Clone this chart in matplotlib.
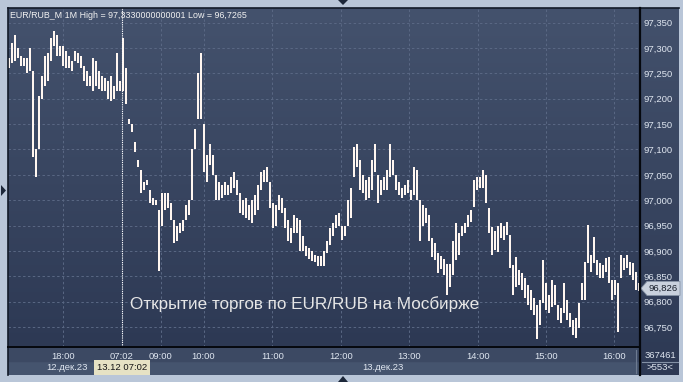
import numpy as np
import matplotlib.pyplot as plt
from matplotlib.colors import LinearSegmentedColormap
from matplotlib.patches import Polygon, Rectangle

plt.rcParams['font.family'] = ['Liberation Sans', 'DejaVu Sans']

# 1-minute bars EUR/RUB_M, low / high per bar
lows = [
    97.260, 97.270, 97.275, 97.280, 97.265, 97.265, 97.250, 97.255, 97.085, 97.045,
    97.100, 97.200, 97.225, 97.235, 97.275, 97.305, 97.285, 97.285, 97.265, 97.260,
    97.260, 97.255, 97.275, 97.270, 97.260, 97.235, 97.225, 97.225, 97.215, 97.225,
    97.220, 97.215, 97.215, 97.200, 97.195, 97.200, 97.215, 97.215, 97.215, 97.190,
    97.150, 97.135, 97.095, 97.065, 97.015, 97.020, 97.030, 96.995, 96.990, 96.990,
    96.860, 96.950, 96.980, 96.985, 96.960, 96.915, 96.920, 96.935, 96.940, 96.960,
    96.970, 97.000, 97.100, 97.160, 97.160, 97.055, 97.035, 97.070, 97.050, 97.000,
    97.000, 97.005, 97.010, 97.010, 97.015, 97.025, 97.010, 96.975, 96.970, 96.965,
    96.960, 96.955, 96.970, 96.980, 97.020, 97.035, 97.035, 96.985, 96.945, 96.950,
    96.980, 96.975, 96.945, 96.920, 96.915, 96.935, 96.935, 96.900, 96.900, 96.890,
    96.885, 96.880, 96.878, 96.870, 96.870, 96.870, 96.895, 96.912, 96.930, 96.945,
    96.950, 96.922, 96.930, 96.950, 96.965, 97.045, 97.065, 97.020, 97.015, 97.000,
    97.005, 97.020, 97.055, 96.995, 97.010, 97.020, 97.020, 97.045, 97.050, 97.020,
    97.010, 97.005, 97.010, 97.015, 97.000, 97.010, 97.000, 96.920, 96.950, 96.955,
    96.920, 96.888, 96.882, 96.857, 96.865, 96.852, 96.813, 96.828, 96.852, 96.882,
    96.892, 96.930, 96.935, 96.948, 96.957, 96.987, 97.020, 97.025, 97.025, 96.995,
    96.935, 96.892, 96.902, 96.898, 96.925, 96.922, 96.932, 96.867, 96.813, 96.828,
    96.832, 96.823, 96.807, 96.793, 96.783, 96.773, 96.726, 96.753, 96.797, 96.783,
    96.777, 96.789, 96.793, 96.764, 96.758, 96.777, 96.764, 96.750, 96.734, 96.728,
    96.748, 96.803, 96.803, 96.877, 96.858, 96.876, 96.852, 96.846, 96.846, 96.858,
    96.837, 96.803, 96.813, 96.740, 96.846, 96.862, 96.866, 96.852, 96.843, 96.823,
    96.820,
]
highs = [
    97.280, 97.310, 97.325, 97.300, 97.285, 97.280, 97.280, 97.300, 97.255, 97.100,
    97.205, 97.245, 97.285, 97.290, 97.320, 97.333, 97.325, 97.305, 97.305, 97.295,
    97.285, 97.275, 97.295, 97.290, 97.285, 97.265, 97.255, 97.245, 97.280, 97.275,
    97.255, 97.245, 97.240, 97.235, 97.245, 97.225, 97.290, 97.235, 97.320, 97.260,
    97.160, 97.150, 97.115, 97.080, 97.060, 97.035, 97.040, 97.020, 97.005, 97.000,
    96.980, 97.015, 97.015, 97.015, 96.995, 96.960, 96.950, 96.955, 96.960, 96.990,
    97.000, 97.100, 97.140, 97.250, 97.290, 97.150, 97.090, 97.110, 97.090, 97.050,
    97.035, 97.030, 97.035, 97.030, 97.045, 97.055, 97.040, 97.015, 97.000, 97.005,
    96.990, 97.000, 97.010, 97.030, 97.055, 97.060, 97.065, 97.035, 96.995, 96.990,
    97.010, 97.005, 96.985, 96.960, 96.945, 96.970, 96.965, 96.960, 96.930, 96.910,
    96.905, 96.900, 96.892, 96.890, 96.890, 96.900, 96.920, 96.945, 96.955, 96.970,
    96.975, 96.950, 96.950, 97.000, 97.025, 97.105, 97.110, 97.080, 97.050, 97.040,
    97.045, 97.080, 97.110, 97.050, 97.040, 97.045, 97.060, 97.110, 97.080, 97.050,
    97.035, 97.025, 97.030, 97.040, 97.020, 97.065, 97.060, 97.000, 96.990, 96.985,
    96.970, 96.925, 96.915, 96.895, 96.890, 96.885, 96.875, 96.875, 96.920, 96.955,
    96.935, 96.950, 96.955, 96.970, 96.980, 97.040, 97.045, 97.045, 97.060, 97.050,
    96.985, 96.948, 96.940, 96.950, 96.955, 96.950, 96.957, 96.932, 96.872, 96.888,
    96.862, 96.857, 96.847, 96.832, 96.823, 96.807, 96.793, 96.803, 96.882, 96.837,
    96.813, 96.843, 96.832, 96.793, 96.787, 96.837, 96.803, 96.777, 96.764, 96.768,
    96.797, 96.837, 96.878, 96.951, 96.892, 96.927, 96.882, 96.876, 96.872, 96.886,
    96.888, 96.843, 96.843, 96.837, 96.892, 96.886, 96.892, 96.878, 96.876, 96.858,
    96.837,
]

# time axis: tick positions in bar numbers and their labels
time_ticks = [17.8, 37.5, 50.5, 64.8, 87.8, 110.8, 133.5, 156.5, 179.2, 201.8]
time_labels = ['18:00', '07:02', '09:00', '10:00', '11:00', '12:00',
               '13:00', '14:00', '15:00', '16:00']
session_open = 37.5
price_ticks = [96.75, 96.80, 96.85, 96.90, 96.95, 97.00, 97.05,
               97.10, 97.15, 97.20, 97.25, 97.30, 97.35]
last_price = 96.826
title = 'EUR/RUB_M 1M High = 97,3330000000001 Low = 96,7265'
note = 'Открытие торгов по EUR/RUB на Мосбирже'

W, H = 683, 382
fig = plt.figure(figsize=(W / 100, H / 100), dpi=100)
fig.patch.set_facecolor('#b9c6d8')


def box(x0, y0, x1, y1):
    # pixel box (top-left origin) -> figure fraction rect
    return [x0 / W, 1 - y1 / H, (x1 - x0) / W, (y1 - y0) / H]


grad = LinearSegmentedColormap.from_list('bg', ['#2d3954', '#44526d'])
vals = np.linspace(0, 1, 256).reshape(-1, 1)

# right price panel
axr = fig.add_axes(box(640, 8, 679, 375), zorder=0)
axr.imshow(vals[::-1] * 0.95, cmap=grad, aspect='auto', extent=[0, 1, 0, 1],
           origin='upper', vmin=0, vmax=1)
axr.set_axis_off()

# bottom time panel
axb = fig.add_axes(box(8, 347, 640, 375), zorder=0)
axb.set_xlim(0, 1)
axb.set_ylim(0, 1)
axb.add_patch(Rectangle((0, 0), 1, 0.5, color='#45546e'))
axb.add_patch(Rectangle((0, 0.5), 1, 0.5, color='#3c4963'))
axb.set_axis_off()

# main chart
ax = fig.add_axes(box(8, 8, 640, 347), zorder=1)
ax.imshow(vals, cmap=grad, aspect='auto', extent=[0, 1, 0, 1],
          transform=ax.transAxes, origin='lower', zorder=0)
x = np.arange(len(lows))
ax.vlines(x, lows, highs, color='#fff6f0', lw=1.1, antialiased=False, zorder=3)
ax.set_xlim(-0.5, len(lows) - 0.5)
ax.set_ylim(96.7105, 97.379)

ax.set_yticks(price_ticks)
ax.set_yticklabels([f'{v:.3f}'.replace('.', ',') for v in price_ticks])
ax.yaxis.tick_right()
ax.set_xticks(time_ticks)
ax.set_xticklabels(time_labels)
ax.tick_params(axis='y', length=0, pad=2.5, labelsize=6.8, labelcolor='#dfe6f0')
ax.tick_params(axis='x', length=0, pad=3.5, labelsize=6.8, labelcolor='#dfe6f0')
ax.grid(True, color='#5a6884', lw=0.7, ls=(0, (2.5, 2.5)))
ax.axvline(session_open, color='white', lw=0.8, ls=(0, (1, 1)), zorder=4)
for s in ax.spines.values():
    s.set_visible(False)

ax.text(0.003, 0.978, title, transform=ax.transAxes, fontsize=6.4,
        color='#f2f2f2', va='center', ha='left', zorder=5)
ax.text(0.193, 0.128, note, transform=ax.transAxes, fontsize=12.3,
        color='#e6e6e6', va='center', ha='left', zorder=5)

# overlay in pixel units for frame details
ov = fig.add_axes([0, 0, 1, 1], zorder=2)
ov.set_xlim(0, W)
ov.set_ylim(H, 0)
ov.set_axis_off()
ov.patch.set_alpha(0)
dark = '#121a28'
ov.plot([8, 8], [8, 375], color=dark, lw=1.2)
ov.plot([8, 679], [8, 8], color=dark, lw=1.2)
ov.plot([640, 640], [8, 375], color='#05080e', lw=1.6)
ov.plot([8, 640], [347, 347], color='#05080e', lw=1.4)
ov.plot([636, 636], [350, 373], color='#6d7a90', lw=0.8)
ov.plot([642, 678], [362, 362], color='#8391a6', lw=0.8)
ov.text(660, 355, '367461', fontsize=6.8, color='#dfe6f0', ha='center', va='center')
ov.text(660, 368, '>553<', fontsize=6.8, color='#dfe6f0', ha='center', va='center')

ov.text(67, 367, '12.дек.23', fontsize=6.8, color='#dfe6f0', ha='center', va='center')
ov.text(383, 367, '13.дек.23', fontsize=6.8, color='#dfe6f0', ha='center', va='center')
ov.text(122, 367.5, '13.12 07:02', fontsize=6.8, color='#151515', ha='center',
        va='center', bbox=dict(boxstyle='square,pad=0.3', fc='#e6e2c4', ec='none'))

# last price marker
yl = 22.7 + (97.35 - last_price) / 0.001972
ov.add_patch(Polygon([(641, yl), (647, yl - 7), (680, yl - 7), (680, yl + 7),
                      (647, yl + 7)], closed=True, fc='#c9d1dd', ec='#8a96a8', lw=0.6))
ov.text(663, yl, f'{last_price:.3f}'.replace('.', ','), fontsize=6.8,
        color='#151c28', ha='center', va='center')

# small scroll arrows on the frame
tri = '#1c2739'
ov.add_patch(Polygon([(1, 185), (6, 190.5), (1, 196)], closed=True, fc=tri, ec='none'))
ov.add_patch(Polygon([(338, 0), (348, 0), (343, 5)], closed=True, fc=tri, ec='none'))
ov.add_patch(Polygon([(338, 382), (348, 382), (343, 376)], closed=True, fc=tri, ec='none'))

fig.savefig('out.png', dpi=100, facecolor=fig.get_facecolor())
